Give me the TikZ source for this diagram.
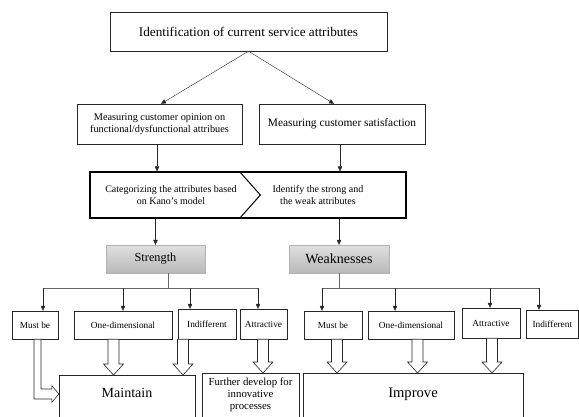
\documentclass[tikz,border=0pt]{standalone}
\usepackage{fontspec}
\setmainfont{Liberation Serif}
\usetikzlibrary{arrows.meta,calc}
\tikzset{
  stepbox/.style={draw=black!85,fill=white,align=center,inner sep=1pt},
  kanobox/.style={draw=black,line width=1.3pt,inner sep=0pt},
  kanotext/.style={align=center,inner sep=0pt,font=\fontsize{10}{11.8}\selectfont},
  groupbox/.style={draw=black!30,top color=black!12,bottom color=black!28,inner sep=0pt},
  catbox/.style={draw=black!85,fill=white,inner sep=0pt,font=\fontsize{9.3}{11}\selectfont},
  resultbox/.style={draw=black!85,fill=white,anchor=north,align=center,inner xsep=0pt,text depth=60pt},
  flowarrow/.style={-{Triangle[length=5pt,width=4.5pt]},black!85},
  treeline/.style={black!60,line width=0.8pt},
  blockarrow/.style={draw=black!85,fill=white,line width=0.6pt}
}
% hollow arrow from a category box down into a result box
\newcommand{\blockdown}[3]{%
  \draw[blockarrow] let \p1=(#1.south -| #3,0), \p2=(#2.north) in
    (\x1-5.5pt,\y1) -- (\x1-5.5pt,\y2+11pt) -- (\x1-10pt,\y2+11pt) -- (\x1,\y2)
    -- (\x1+10pt,\y2+11pt) -- (\x1+5.5pt,\y2+11pt) -- (\x1+5.5pt,\y1) -- cycle;}

\begin{document}
\begin{tikzpicture}[x=1pt,y=-1pt]
  \useasboundingbox (0,0) rectangle (579,416);
  \clip (0,0) rectangle (579,416);

  % first steps
  \node[stepbox,minimum width=277pt,minimum height=39pt,font=\fontsize{13.2}{15}\selectfont]
    (ident) at (248.5,31.5) {Identification of current service attributes};
  \node[stepbox,minimum width=165pt,minimum height=40pt,font=\fontsize{10.3}{12}\selectfont]
    (opinion) at (159.5,124) {Measuring customer opinion on\\functional/dysfunctional attribues};
  \node[stepbox,minimum width=166pt,minimum height=40pt,font=\fontsize{11.4}{13}\selectfont]
    (satisf) at (342,124) {Measuring customer satisfaction};

  % Kano step
  \node[kanobox,minimum width=316pt,minimum height=46pt] (kano) at (248,195) {};
  \node[kanotext] (categ) at (171,195) {Categorizing the attributes based\\on Kano's model};
  \node[kanotext] (strongweak) at (318,195) {Identify the strong and\\the weak attributes};
  \draw[line width=1pt] ($(kano.north west)+(150,0)$) -- ($(kano.west)+(171,0)$)
    -- ($(kano.south west)+(150,0)$);

  \node[groupbox,minimum width=99pt,minimum height=28pt,font=\fontsize{12.3}{14}\selectfont]
    (strength) at (155.5,259) {Strength};
  \node[groupbox,minimum width=100pt,minimum height=28pt,font=\fontsize{14}{16}\selectfont]
    (weak) at (339,259) {Weaknesses};

  \draw[flowarrow] (ident.south) -- (opinion.north -| 161,0);
  \draw[flowarrow] (ident.south) -- (satisf.north -| 334,0);
  \draw[flowarrow] (opinion.south -| 157,0) -- (kano.north -| 157,0);
  \draw[flowarrow] (satisf.south -| 340,0) -- (kano.north -| 340,0);
  \draw[flowarrow] (kano.south -| strength.north) -- (strength.north);
  \draw[flowarrow] (kano.south -| weak.north) -- (weak.north);

  % categories
  \node[catbox,minimum width=46pt,minimum height=28pt] (sMust) at (35,325) {Must be};
  \node[catbox,minimum width=98pt,minimum height=28pt] (sOne) at (123,325) {One-dimensional};
  \node[catbox,minimum width=58pt,minimum height=30pt] (sInd) at (207,324) {Indifferent};
  \node[catbox,minimum width=47pt,minimum height=30pt] (sAttr) at (263.5,324) {Attractive};

  \node[catbox,minimum width=58pt,minimum height=28pt] (wMust) at (333,325) {Must be};
  \node[catbox,minimum width=86pt,minimum height=28pt] (wOne) at (411,325) {One-dimensional};
  \node[catbox,minimum width=58pt,minimum height=30pt] (wAttr) at (491,323) {Attractive};
  \node[catbox,minimum width=52pt,minimum height=28pt] (wInd) at (552.3,324) {Indifferent};

  \coordinate (sjoin) at (168,288);
  \draw[treeline] (strength.south -| sjoin) -- (sjoin);
  \draw[treeline] (sjoin -| 43,0) -- (sjoin -| 258,0);
  \foreach \xx/\child in {43/sMust,123/sOne,190/sInd,258/sAttr}
    \draw[flowarrow] (sjoin -| \xx,0) -- (\child.north -| \xx,0);

  \coordinate (wjoin) at (339,288);
  \draw[treeline] (weak.south) -- (wjoin);
  \draw[treeline] (wjoin -| 322,0) -- (wjoin -| 539,0);
  \foreach \xx/\child in {322/wMust,395/wOne,490/wAttr,539/wInd}
    \draw[flowarrow] (wjoin -| \xx,0) -- (\child.north -| \xx,0);

  % results
  \node[resultbox,minimum width=136pt,inner ysep=13pt,font=\fontsize{14}{16}\selectfont]
    (maintain) at (127,375) {Maintain};
  \node[resultbox,minimum width=97pt,inner ysep=5pt,font=\fontsize{10.8}{11.6}\selectfont]
    (further) at (250.5,373) {Further develop for\\innovative\\processes};
  \node[resultbox,minimum width=220pt,inner ysep=15pt,font=\fontsize{14.6}{16}\selectfont]
    (improve) at (413,373) {Improve};

  \blockdown{sOne}{maintain}{113.5}
  \blockdown{sInd}{maintain}{183}
  \blockdown{sAttr}{further}{263}
  \blockdown{wMust}{improve}{337}
  \blockdown{wOne}{improve}{417.5}
  \blockdown{wAttr}{improve}{492}
  \draw[blockarrow] let \p1=(sMust.south -| 37.5,0), \p2=(maintain.west |- 0,394) in
    (\x1-3.5pt,\y1) -- (\x1-3.5pt,\y2-5pt) -- (\x2-7pt,\y2-5pt) -- (\x2-7pt,\y2-8.5pt)
    -- (\x2,\y2) -- (\x2-7pt,\y2+8.5pt) -- (\x2-7pt,\y2+5pt) -- (\x1+3.5pt,\y2+5pt)
    -- (\x1+3.5pt,\y1) -- cycle;
\end{tikzpicture}
\end{document}
